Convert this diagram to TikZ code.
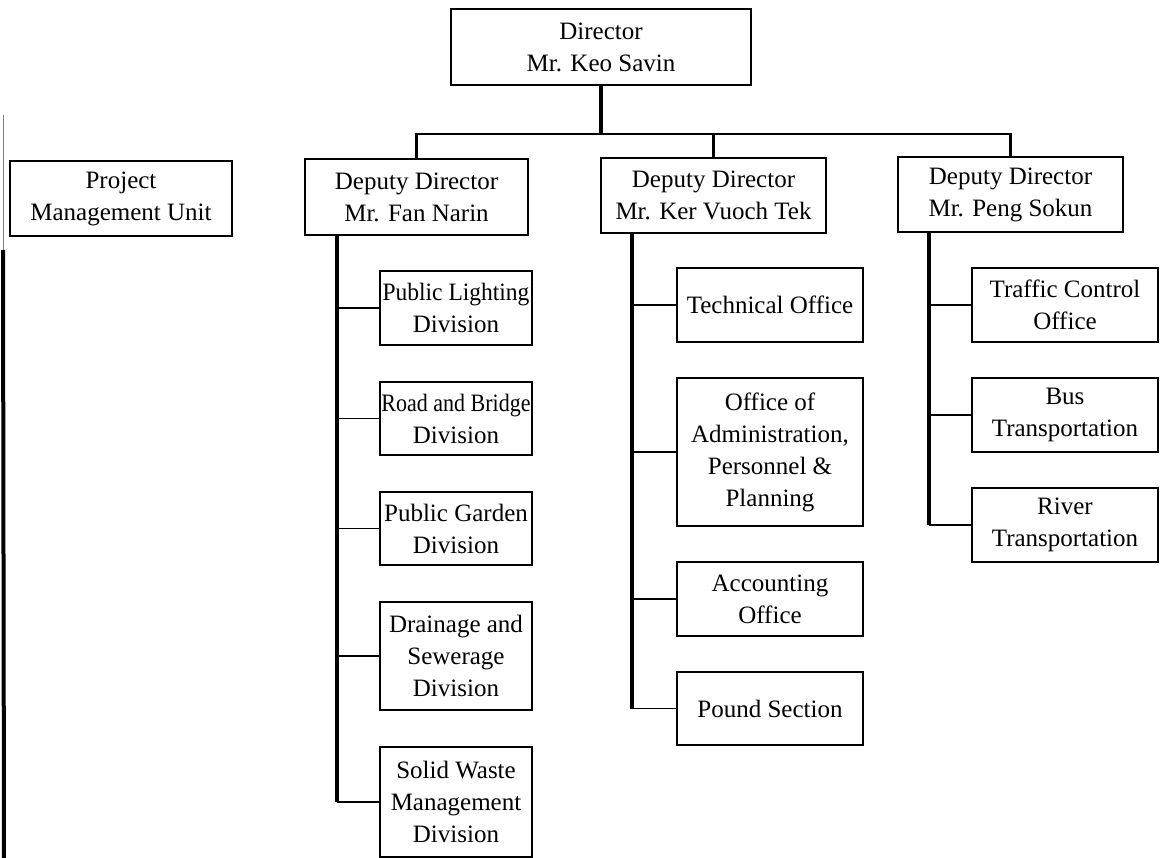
\documentclass[tikz,border=0pt]{standalone}
\usepackage{fontspec}
\usepackage{graphicx}
\setmainfont{Liberation Serif}
\newcommand{\squeezeline}[2]{\scalebox{#1}[1]{#2}}
\begin{document}
\begin{tikzpicture}[x=1pt,y=-1pt,
  box/.style={draw, line width=2.2pt, inner sep=0pt, outer sep=0pt, align=center,
    font=\fontsize{25}{32}\selectfont},
  trunk/.style={line width=3.2pt},
  branch/.style={line width=1.7pt},
  bus/.style={line width=2.2pt}]
\useasboundingbox (0,0) rectangle (1160,858);
% left scan edge line
\coordinate (e1) at (3,115);
\coordinate (e2) at (3,250);
\coordinate (e3) at (4,858);
\draw[line width=1pt, gray] (e1) -- (e2);
\draw[line width=4pt] (e2) -- (e3);

% top level
\node[box, minimum width=300pt, minimum height=76pt] (dir) at (601,47) {Director\\Mr. Keo Savin};
\node[box, minimum width=222pt, minimum height=75pt] (pmu) at (121,198.5) {Project\\Management Unit};
\node[box, minimum width=223pt, minimum height=76pt] (fan) at (416.5,197) {Deputy Director\\Mr. Fan Narin};
\node[box, minimum width=225pt, minimum height=75pt] (ker) at (713.5,195.5) {Deputy Director\\Mr. Ker Vuoch Tek};
\node[box, minimum width=225pt, minimum height=75pt] (peng) at (1010.5,194.5) {Deputy Director\\Mr. Peng Sokun};

% Fan children
\node[box, minimum width=152pt, minimum height=74pt] (pl) at (456,308) {\squeezeline{0.94}{Public Lighting}\\Division};
\node[box, minimum width=152pt, minimum height=73pt] (rb) at (456,418.5) {\squeezeline{0.88}{Road and Bridge}\\Division};
\node[box, minimum width=152pt, minimum height=73pt] (pg) at (456,528.5) {Public Garden\\Division};
\node[box, minimum width=152pt, minimum height=108pt] (ds) at (456,656) {Drainage and\\Sewerage\\Division};
\node[box, minimum width=152pt, minimum height=110pt] (sw) at (456,802) {Solid Waste\\Management\\Division};

% Ker children
\node[box, minimum width=186pt, minimum height=74pt] (to) at (770,305) {Technical Office};
\node[box, minimum width=186pt, minimum height=148pt] (oa) at (770,452) {Office of\\Administration,\\Personnel \&\\Planning};
\node[box, minimum width=186pt, minimum height=74pt] (ao) at (770,599) {Accounting\\Office};
\node[box, minimum width=186pt, minimum height=73pt] (ps) at (770,708.5) {Pound Section};

% Peng children
\node[box, minimum width=186pt, minimum height=74pt] (tc) at (1065,305) {Traffic Control\\Office};
\node[box, minimum width=186pt, minimum height=74pt] (bt) at (1065,415) {Bus\\Transportation};
\node[box, minimum width=186pt, minimum height=74pt] (rt) at (1065,525) {River\\Transportation};

% bus from director
\coordinate (busy) at (0,134);
\draw[trunk] (dir.south) -- (dir.south |- busy);
\draw[bus] (fan.north) -- (fan.north |- busy) -| (peng.north);
\draw[bus] (ker.north) -- (ker.north |- busy);

% Fan trunk
\coordinate (fv) at (337,0);
\draw[trunk] (fan.south -| fv) -- (sw.west -| fv);
\foreach \n in {pl,rb,pg,ds,sw}
  \draw[branch] (\n.west -| fv) -- (\n.west);

% Ker trunk
\coordinate (kv) at (632,0);
\draw[trunk] (ker.south -| kv) -- (ps.west -| kv);
\foreach \n in {to,oa,ao,ps}
  \draw[branch] (\n.west -| kv) -- (\n.west);

% Peng trunk
\coordinate (pv) at (929,0);
\draw[trunk] (peng.south -| pv) -- (rt.west -| pv);
\foreach \n in {tc,bt,rt}
  \draw[branch] (\n.west -| pv) -- (\n.west);
\end{tikzpicture}
\end{document}
